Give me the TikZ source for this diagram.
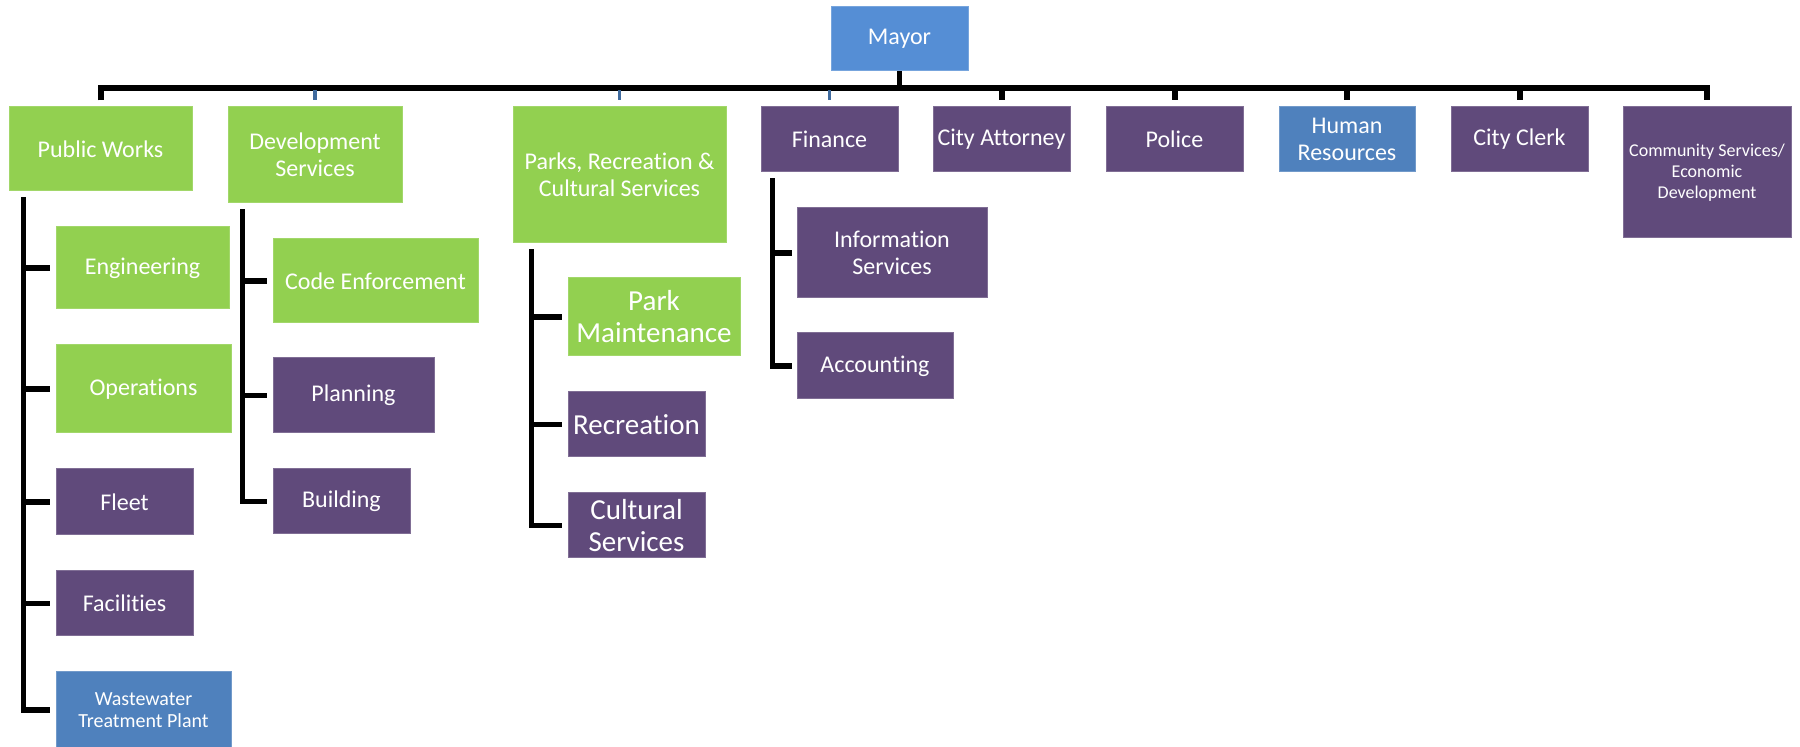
\documentclass[tikz,border=0pt]{standalone}
\usepackage{fontspec}
\setmainfont{Carlito}[Ligatures={NoCommon,NoRare,NoContextual}]
\usetikzlibrary{calc}
\definecolor{gr}{HTML}{92D050}
\definecolor{pu}{HTML}{604A7B}
\definecolor{mb}{HTML}{558ED5}
\definecolor{bl}{HTML}{4F81BD}
\definecolor{tk}{HTML}{3F6A9E}
\tikzset{
  box/.style={rectangle, inner sep=0pt, align=center, text=white, line width=0.5pt,
    font=\fontsize{12}{13.5}\selectfont},
  gbox/.style={box, fill=gr, draw=gr!85!white},
  pbox/.style={box, fill=pu, draw=pu!80!white},
  bbox/.style={box, fill=bl, draw=bl!80!white},
  mbox/.style={box, fill=mb, draw=mb!80!white},
  sz/.style 2 args={minimum width=#1*0.5pt, minimum height=#2*0.5pt},
  bigtxt/.style={font=\fontsize{14.5}{16}\selectfont},
  conn/.style={draw=black, line width=2.6pt, line join=miter},
  barline/.style={draw=black, line width=3pt, line join=miter},
  bluetick/.style={draw=tk, line width=1.6pt}
}
\begin{document}
\begin{tikzpicture}[x=0.5pt,y=-0.5pt]
\useasboundingbox (0,0) rectangle (1800,747);
% top
\node[mbox,sz={137}{64}] (mayor) at (899.5,39) {Mayor};
\node[gbox,sz={183}{84}] (pw) at (100.5,149) {Public Works};
\node[gbox,sz={174}{96}] (dev) at (315,155) {Development\\Services};
\node[gbox,sz={213}{136}] (parks) at (619.5,175) {Parks, Recreation \&\\Cultural Services};
\node[pbox,sz={137}{65}] (fin) at (829.5,139.5) {Finance};
\node[pbox,sz={137}{65}] (att) at (1001.5,139.5) {City Attorney};
\node[pbox,sz={137}{65}] (pol) at (1174.5,139.5) {Police};
\node[bbox,sz={136}{65}] (hr) at (1347,139.5) {Human\\Resources};
\node[pbox,sz={137}{65}] (clerk) at (1519.5,139.5) {City Clerk};
\node[pbox,sz={168}{131},font=\fontsize{9}{10.5}\selectfont] (comm) at (1707,172.5) {Community Services/\\Economic\\Development};
% public works children
\node[gbox,sz={173}{82}] (eng) at (142.5,268) {Engineering};
\node[gbox,sz={175}{88}] (ops) at (143.5,389) {Operations};
\node[pbox,sz={137}{66}] (fleet) at (124.5,502) {Fleet};
\node[pbox,sz={137}{65}] (fac) at (124.5,603.5) {Facilities};
\node[bbox,sz={175}{76},font=\fontsize{10}{10.8}\selectfont] (wtp) at (143.5,710) {Wastewater\\Treatment Plant};
% development children
\node[gbox,sz={205}{84}] (code) at (375.5,281) {Code Enforcement};
\node[pbox,sz={161}{75}] (plan) at (353.5,395.5) {Planning};
\node[pbox,sz={137}{65}] (bldg) at (341.5,501.5) {Building};
% parks children
\node[gbox,sz={172}{78},bigtxt] (pm) at (654,317) {Park\\Maintenance};
\node[pbox,sz={137}{65},bigtxt] (rec) at (636.5,424.5) {Recreation};
\node[pbox,sz={137}{65},bigtxt] (cult) at (636.5,525.5) {Cultural\\Services};
% finance children
\node[pbox,sz={190}{90}] (info) at (892,253) {Information\\Services};
\node[pbox,sz={156}{66}] (acct) at (875,366) {Accounting};
% bus
\draw[conn] (mayor.south) -- ($(mayor.south |- pw.north)+(0,-18)$);
\draw[barline] ($(pw.north)+(0,-6)$) -- ($(pw.north)+(0,-18)$) -- ($(comm.north)+(0,-18)$) -- ($(comm.north)+(0,-6)$);
\foreach \n in {att,pol,hr,clerk}
  \draw[barline] ($(\n.north)+(0,-18)$) -- ($(\n.north)+(0,-6)$);
\foreach \n in {dev,parks,fin}
  \draw[bluetick] ($(\n.north)+(0,-16)$) -- ($(\n.north)+(0,-6)$);
% trunks
\coordinate (pwt) at ($(pw.south west)+(15,6)$);
\draw[conn] (pwt) |- ($(wtp.west)+(-6,0)$);
\foreach \c in {eng,ops,fleet,fac}
  \draw[conn] (pwt |- \c.west) -- ($(\c.west)+(-6,0)$);
\coordinate (devt) at ($(dev.south west)+(15,6)$);
\draw[conn] (devt) |- ($(bldg.west)+(-6,0)$);
\foreach \c in {code,plan}
  \draw[conn] (devt |- \c.west) -- ($(\c.west)+(-6,0)$);
\coordinate (pkt) at ($(parks.south west)+(19,6)$);
\draw[conn] (pkt) |- ($(cult.west)+(-6,0)$);
\foreach \c in {pm,rec}
  \draw[conn] (pkt |- \c.west) -- ($(\c.west)+(-6,0)$);
\coordinate (fnt) at ($(fin.south west)+(12,6)$);
\draw[conn] (fnt) |- ($(acct.west)+(-5,0)$);
\draw[conn] (fnt |- info.west) -- ($(info.west)+(-5,0)$);
\end{tikzpicture}
\end{document}
